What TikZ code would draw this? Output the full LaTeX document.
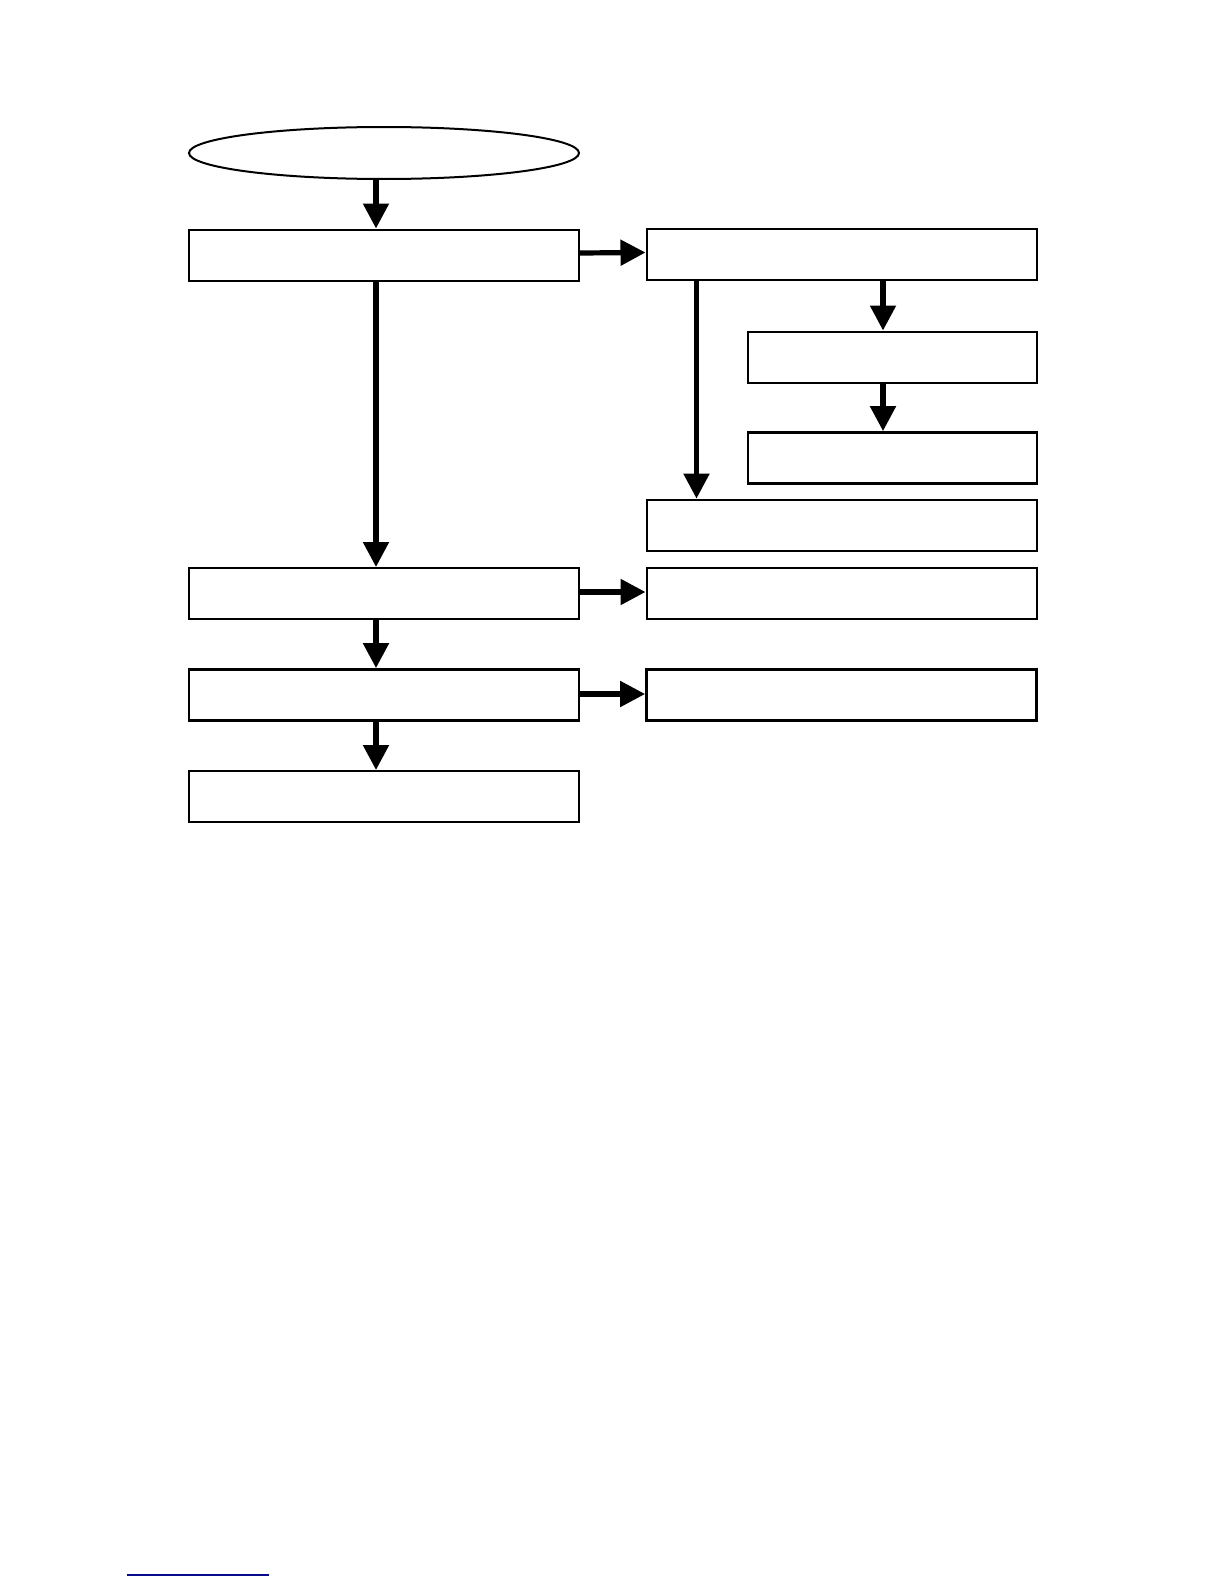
\documentclass[tikz,border=0pt]{standalone}
\usetikzlibrary{arrows.meta,shapes.geometric}
\definecolor{footblue}{RGB}{10,10,140}
\begin{document}
\begin{tikzpicture}[x=0.5pt,y=-0.5pt,
  box/.style={draw=black,line width=1pt,rectangle,inner sep=0pt,minimum height=25.5pt},
  wide/.style={minimum width=195pt},
  narrow/.style={minimum width=144.5pt},
  thick box/.style={line width=1.4pt},
  arr/.style={draw=black,line width=2.6pt,-{Triangle[length=12.5pt,width=12.5pt]}}]
\useasboundingbox[fill=white] (0,0) rectangle (1224,1584);
\node[draw=black,line width=1pt,ellipse,inner sep=0pt,minimum width=195pt,minimum height=26pt] (e) at (384,153) {};
\node[box,wide] (t1) at (384,255) {};
\node[box,wide] (tr) at (841.5,254.5) {};
\node[box,narrow] (a) at (892.5,357) {};
\node[box,narrow,thick box] (b) at (892.5,458) {};
\node[box,wide,thick box] (c) at (842,525.5) {};
\node[box,wide] (l2) at (384,593.5) {};
\node[box,wide] (r2) at (841.5,593.5) {};
\node[box,wide,thick box] (l3) at (384,695) {};
\node[box,wide,thick box] (r3) at (841.5,695) {};
\node[box,wide] (l4) at (384,796.5) {};
% connectors
\draw[arr] ([xshift=-4pt]e.south) -- ([xshift=-4pt]t1.north);
\draw[arr] ([xshift=-4pt]t1.south) -- ([xshift=-4pt]l2.north);
\draw[arr] ([xshift=-4pt]l2.south) -- ([xshift=-4pt]l3.north);
\draw[arr] ([xshift=-4pt]l3.south) -- ([xshift=-4pt]l4.north);
\draw[arr] ([yshift=1pt]t1.east) -- ([yshift=1pt]tr.west);
\draw[arr] ([yshift=0.75pt]l2.east) -- ([yshift=0.75pt]r2.west);
\draw[arr] ([yshift=0.5pt]l3.east) -- ([yshift=0.5pt]r3.west);
\draw[arr] ([xshift=-4.75pt]a.north |- tr.south) -- ([xshift=-4.75pt]a.north);
\draw[arr] ([xshift=-4.75pt]a.south) -- ([xshift=-4.75pt]b.north);
\draw[arr] ([xshift=25.5pt]tr.south west) -- ([xshift=25.5pt]tr.south west |- c.north);
% footnote rule
\coordinate (f1) at (127,1575);
\coordinate (f2) at (269,1575);
\draw[footblue,line width=1pt] (f1) -- (f2);
\end{tikzpicture}
\end{document}
